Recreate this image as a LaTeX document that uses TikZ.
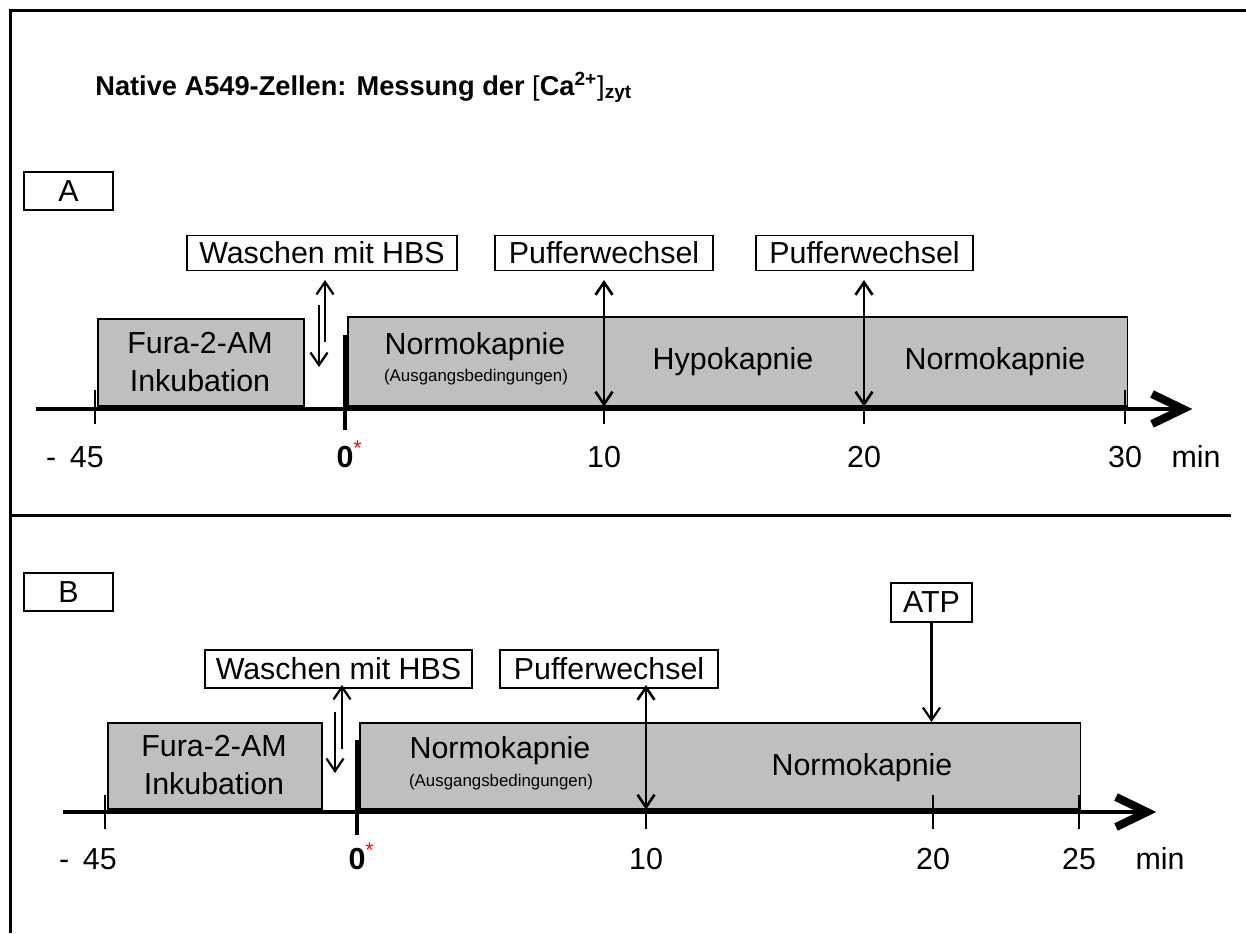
\documentclass[tikz,border=0pt]{standalone}
\usepackage{fontspec}
\setmainfont{Liberation Sans}
\usetikzlibrary{arrows.meta}
\definecolor{boxgray}{RGB}{191,191,191}
\begin{document}
\begin{tikzpicture}[x=0.02cm, y=-0.02cm,
  every node/.style={font=\fontsize{17.3}{22}\selectfont, inner sep=0pt},
  tag/.style={draw, line width=0.9pt, fill=white},
  phase/.style={draw, line width=0.9pt, fill=boxgray, anchor=north west, inner sep=0pt},
  small/.style={font=\fontsize{9.6}{11}\selectfont},
  axisline/.style={line width=2.3pt},
  chevron/.style={line width=4.6pt, line join=miter},
  tickmark/.style={line width=1.2pt},
  zerotick/.style={line width=2.4pt},
  barb/.tip={Straight Barb[length=0.25cm, width=0.34cm]},
  puff/.style={line width=1.5pt, barb-barb},
  wash/.style={line width=1.25pt, -barb},
  ticklabel/.style={anchor=base},
]
\useasboundingbox (0,0) rectangle (1246,933);

% frame and divider
\draw[line width=2pt] (10.5,933) -- (10.5,10.5) -- (1246,10.5);
\draw[line width=2pt] (10,515.5) -- (1231,515.5);

% title
\node[anchor=base west, font=\fontsize{15.5}{18}\selectfont\bfseries] (title) at (95,95)
  {Native A549-Zellen: Messung der {\mdseries[}Ca\textsuperscript{2+}{\mdseries]}\textsubscript{zyt}};

% ================= panel A =================
\node[tag, minimum width=1.78cm, minimum height=0.76cm] (labA) at (68.5,191) {A};

\node[phase, minimum width=4.12cm, minimum height=1.74cm] (furaA) at (97,318) {};
\node[phase, minimum width=15.6cm, minimum height=1.78cm] (normA) at (347,316) {};
\node[align=center] (furaAtxt) at (200,362) {Fura-2-AM\\Inkubation};
\node (nA1) at (475,347) {Normokapnie};
\node[small] (ausA) at (476,377) {(Ausgangsbedingungen)};
\node (hypA) at (733,362) {Hypokapnie};
\node (nA2) at (995,362) {Normokapnie};

\node[tag, minimum width=5.4cm, minimum height=0.7cm] (waschA) at (322,253) {Waschen mit HBS};
\node[tag, minimum width=4.36cm, minimum height=0.7cm] (pA1) at (604,253) {Pufferwechsel};
\node[tag, minimum width=4.34cm, minimum height=0.7cm] (pA2) at (864.5,253) {Pufferwechsel};

% time axis A
\coordinate (axAstart) at (36,409);
\coordinate (axAtip) at (1183,409);
\draw[axisline] (axAstart) -- ([xshift=-0.1cm]axAtip);
\draw[chevron] ([shift={(-31,-15)}]axAtip) -- (axAtip) -- ([shift={(-31,15)}]axAtip);
\foreach \t in {95,604,864,1125} \draw[tickmark] (\t,390) -- (\t,424);
\draw[zerotick] (345,335) -- (345,430);

% arrows A
\coordinate (wAup) at (325,342);
\coordinate (wAdn) at (319,305);
\draw[wash] (wAup) -- ++(0,-62);
\draw[wash] (wAdn) -- ++(0,62);
\coordinate (pA1end) at (604,280);
\coordinate (pA2end) at (864,280);
\draw[puff] (pA1end) -- (pA1end |- normA.south);
\draw[puff] (pA2end) -- (pA2end |- normA.south);

% tick labels A
\node[ticklabel] (tA0) at (75,467) {-\hspace{0.45em}45};
\node[ticklabel] (tA1) at (345,467) {\textbf{0}\rlap{\textsuperscript{\textcolor{red}{*}}}};
\node[ticklabel] (tA2) at (604,467) {10};
\node[ticklabel] (tA3) at (864,467) {20};
\node[ticklabel] (tA4) at (1125,467) {30};
\node[ticklabel] (tA5) at (1196,467) {min};

% ================= panel B =================
\node[tag, minimum width=1.78cm, minimum height=0.76cm] (labB) at (68.5,592) {B};

\node[phase, minimum width=4.28cm, minimum height=1.72cm] (furaB) at (107,722) {};
\node[phase, minimum width=14.42cm, minimum height=1.72cm] (normB) at (359,722) {};
\node[align=center] (furaBtxt) at (214,765) {Fura-2-AM\\Inkubation};
\node (nB1) at (500,751) {Normokapnie};
\node[small] (ausB) at (501,782) {(Ausgangsbedingungen)};
\node (nB2) at (862,768) {Normokapnie};

\node[tag, minimum width=5.34cm, minimum height=0.76cm] (waschB) at (338.5,669) {Waschen mit HBS};
\node[tag, minimum width=4.36cm, minimum height=0.76cm] (pB1) at (609,669) {Pufferwechsel};
\node[tag, minimum width=1.62cm, minimum height=0.78cm] (atp) at (931.5,602.5) {ATP};

% time axis B
\coordinate (axBstart) at (63,812);
\coordinate (axBtip) at (1147,812);
\draw[axisline] (axBstart) -- ([xshift=-0.1cm]axBtip);
\draw[chevron] ([shift={(-31,-15)}]axBtip) -- (axBtip) -- ([shift={(-31,15)}]axBtip);
\foreach \t in {105,646,933,1079} \draw[tickmark] (\t,795) -- (\t,829);
\draw[zerotick] (357,740) -- (357,835);

% arrows B
\coordinate (wBup) at (342,749);
\coordinate (wBdn) at (335,712);
\draw[wash] (wBup) -- ++(0,-64);
\draw[wash] (wBdn) -- ++(0,61);
\coordinate (pB1end) at (646,685);
\draw[puff] (pB1end) -- (pB1end |- normB.south);
\draw[wash] (atp.south) -- (atp.south |- normB.north);

% tick labels B
\node[ticklabel] (tB0) at (88,869) {-\hspace{0.45em}45};
\node[ticklabel] (tB1) at (357,869) {\textbf{0}\rlap{\textsuperscript{\textcolor{red}{*}}}};
\node[ticklabel] (tB2) at (646,869) {10};
\node[ticklabel] (tB3) at (933,869) {20};
\node[ticklabel] (tB4) at (1079,869) {25};
\node[ticklabel] (tB5) at (1160,869) {min};
\end{tikzpicture}
\end{document}
